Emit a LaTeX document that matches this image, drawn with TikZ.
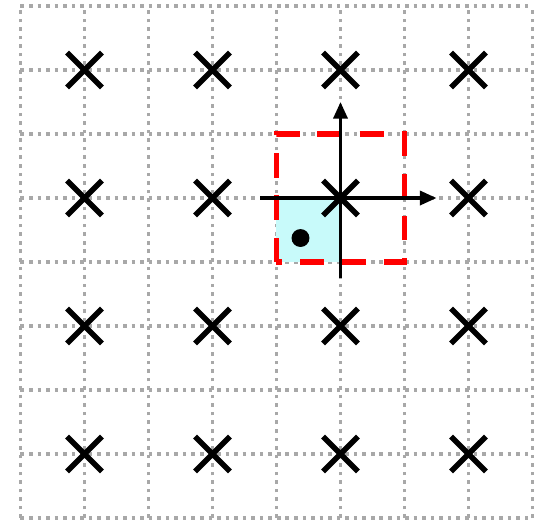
\documentclass[tikz,border=0pt]{standalone}
\usepackage{tikz}
\usetikzlibrary{arrows.meta, shapes.misc}

\definecolor{gridgray}{HTML}{A8A8A8}
\definecolor{cellcyan}{HTML}{C8FAFA}

\begin{document}
\begin{tikzpicture}[>={Triangle[length=0.26cm, width=0.22cm]}]
  \useasboundingbox (-0.32,-0.047) rectangle (8.164,8.094);
  % dotted grid
  \draw[gridgray, line width=1.6pt, dash pattern=on 1.6pt off 2.2pt] (0,0) grid (8,8);
  % shaded cell and window
  \fill[cellcyan] (4,4) rectangle (5,5);
  \draw[red, line width=2.6pt, dash pattern=on 0.38cm off 0.28cm] (4,4) rectangle (6,6);
  \node[circle, fill=black, inner sep=0pt, minimum size=0.28cm] (pt) at (4.375,4.375) {};
  % axes through the centre sample
  \coordinate (xs) at (3.75,5);
  \coordinate (xe) at (6.5,5);
  \coordinate (ys) at (5,3.75);
  \coordinate (ye) at (5,6.5);
  \draw[->, line width=1.5pt] (xs) -- (xe);
  \draw[->, line width=1.5pt] (ys) -- (ye);
  % samples
  \foreach \i in {1,3,5,7}
    \foreach \j in {1,3,5,7}
      \node[cross out, draw, line width=2.4pt, minimum size=0.46cm, inner sep=0pt] (s\i\j) at (\i,\j) {};
\end{tikzpicture}
\end{document}
